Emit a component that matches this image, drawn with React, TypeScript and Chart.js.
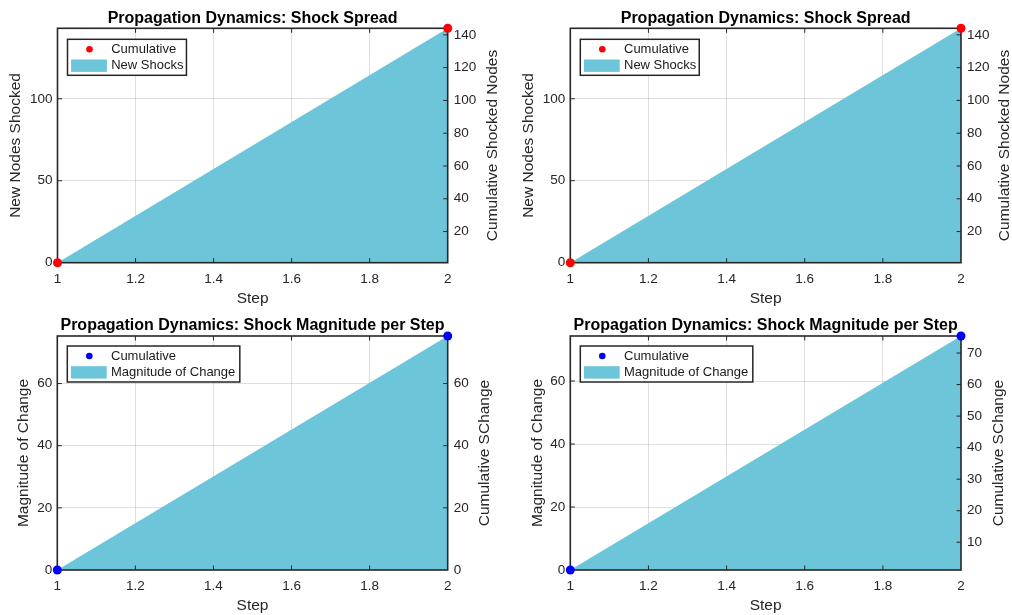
import React, { useEffect, useRef } from "react";
import { Chart, registerables } from "chart.js";

Chart.register(...registerables);

// ---------- data ----------
const steps = [1, 2];
const xTicks = [1, 1.2, 1.4, 1.6, 1.8, 2];

const spreadNew = [0, 143];
const spreadCum = [1, 144];
const spreadLeftTicks = [0, 50, 100];
const spreadRightTicks = [20, 40, 60, 80, 100, 120, 140];

const magNewA = [0, 75.3];
const magCumA = [0, 75.3];
const magLeftTicksA = [0, 20, 40, 60];
const magRightTicksA = [0, 20, 40, 60];

const magNewB = [0, 74.3];
const magCumB = [1.2, 75.4];
const magLeftTicksB = [0, 20, 40, 60];
const magRightTicksB = [10, 20, 30, 40, 50, 60, 70];

const titleSpread = "Propagation Dynamics: Shock Spread";
const titleMag = "Propagation Dynamics: Shock Magnitude per Step";
const xLabel = "Step";
const cumLabel = "Cumulative";

// ---------- style ----------
const FAMILY = '"Liberation Sans", Arial, Helvetica, sans-serif';
const CYAN = "rgb(108,197,217)";
const DARK = "#262626";
const GRID = "rgba(38,38,38,0.15)";

type Spec = {
  x: number; y: number; w: number; h: number;
  area: { l: number; r: number; t: number; b: number };
  title: string;
  newVals: number[]; cumVals: number[];
  leftTicks: number[]; rightTicks: number[];
  areaLabel: string; leftTitle: string; rightTitle: string;
  dot: string;
  leftTitleX: number; rightTitleOff: number; xTitleFromBottom: number;
  legendPadR: number; legendTop: number;
};

const specs: Spec[] = [
  {
    x: 0, y: 0, w: 506, h: 310,
    area: { l: 57.5, r: 447.7, t: 28.3, b: 262.7 },
    title: titleSpread, newVals: spreadNew, cumVals: spreadCum,
    leftTicks: spreadLeftTicks, rightTicks: spreadRightTicks,
    areaLabel: "New Shocks", leftTitle: "New Nodes Shocked", rightTitle: "Cumulative Shocked Nodes",
    dot: "#ff0000", leftTitleX: 15.8, rightTitleOff: 45.3, xTitleFromBottom: 11,
    legendPadR: 3, legendTop: 11,
  },
  {
    x: 506, y: 0, w: 506, h: 310,
    area: { l: 64.3, r: 455, t: 28.3, b: 262.7 },
    title: titleSpread, newVals: spreadNew, cumVals: spreadCum,
    leftTicks: spreadLeftTicks, rightTicks: spreadRightTicks,
    areaLabel: "New Shocks", leftTitle: "New Nodes Shocked", rightTitle: "Cumulative Shocked Nodes",
    dot: "#ff0000", leftTitleX: 22.3, rightTitleOff: 44, xTitleFromBottom: 11,
    legendPadR: 3, legendTop: 11,
  },
  {
    x: 0, y: 310, w: 506, h: 305,
    area: { l: 57.3, r: 447.7, t: 26, b: 260 },
    title: titleMag, newVals: magNewA, cumVals: magCumA,
    leftTicks: magLeftTicksA, rightTicks: magRightTicksA,
    areaLabel: "Magnitude of Change", leftTitle: "Magnitude of Change", rightTitle: "Cumulative SChange",
    dot: "#0000ff", leftTitleX: 24, rightTitleOff: 37.3, xTitleFromBottom: 9,
    legendPadR: 4.5, legendTop: 10,
  },
  {
    x: 506, y: 310, w: 506, h: 305,
    area: { l: 64.3, r: 455, t: 26, b: 260 },
    title: titleMag, newVals: magNewB, cumVals: magCumB,
    leftTicks: magLeftTicksB, rightTicks: magRightTicksB,
    areaLabel: "Magnitude of Change", leftTitle: "Magnitude of Change", rightTitle: "Cumulative SChange",
    dot: "#0000ff", leftTitleX: 31.5, rightTitleOff: 37.3, xTitleFromBottom: 9,
    legendPadR: 4.5, legendTop: 10,
  },
];

const fmt = (v: number) => String(Number(v.toFixed(2)));

const decoPlugin = {
  id: "panelDeco",
  afterDatasetDraw(chart: any, args: any, opts: any) {
    if (args.index !== 0) return;
    const { ctx, chartArea: a, scales } = chart;
    ctx.save();
    ctx.strokeStyle = DARK;
    ctx.lineWidth = 1;
    const tl = 4.5;
    ctx.beginPath();
    for (const v of xTicks) {
      if (v === 1 || v === 2) continue;
      const px = scales.x.getPixelForValue(v);
      ctx.moveTo(px, a.bottom); ctx.lineTo(px, a.bottom - tl);
      ctx.moveTo(px, a.top); ctx.lineTo(px, a.top + tl);
    }
    for (const v of opts.leftTicks) {
      const py = scales.y.getPixelForValue(v);
      if (Math.abs(py - a.bottom) < 1 || Math.abs(py - a.top) < 1) continue;
      ctx.moveTo(a.left, py); ctx.lineTo(a.left + tl, py);
    }
    for (const v of opts.rightTicks) {
      const py = scales.y1.getPixelForValue(v);
      if (Math.abs(py - a.bottom) < 1 || Math.abs(py - a.top) < 1) continue;
      ctx.moveTo(a.right, py); ctx.lineTo(a.right - tl, py);
    }
    ctx.stroke();
    ctx.lineWidth = 1.6;
    ctx.strokeRect(a.left, a.top, a.right - a.left, a.bottom - a.top);
    ctx.restore();
  },
  afterDraw(chart: any, _args: any, opts: any) {
    const { ctx, chartArea: a } = chart;
    ctx.save();
    // right axis title (reads bottom to top)
    ctx.translate(a.right + opts.rightTitleOff, (a.top + a.bottom) / 2);
    ctx.rotate(-Math.PI / 2);
    ctx.font = `15.5px ${FAMILY}`;
    ctx.fillStyle = DARK;
    ctx.textAlign = "center";
    ctx.textBaseline = "middle";
    ctx.fillText(opts.rightTitle, 0, 0);
    ctx.restore();

    // legend
    ctx.save();
    const ds = chart.data.datasets;
    const labels = [ds[1].label, ds[0].label];
    ctx.font = `13px ${FAMILY}`;
    const tw = Math.max(...labels.map((t: string) => ctx.measureText(t).width));
    const bx = a.left + 10;
    const by = a.top + opts.legendTop;
    const bw = 43.7 + tw + opts.legendPadR;
    const bh = 36;
    ctx.fillStyle = "#ffffff";
    ctx.fillRect(bx, by, bw, bh);
    ctx.lineWidth = 1.5;
    ctx.strokeStyle = DARK;
    ctx.strokeRect(bx, by, bw, bh);
    ctx.fillStyle = ds[1].pointBackgroundColor;
    ctx.beginPath();
    ctx.arc(bx + 22, by + 10, 3.3, 0, Math.PI * 2);
    ctx.fill();
    ctx.fillStyle = CYAN;
    ctx.fillRect(bx + 3.6, by + 20.2, 35.8, 12.4);
    ctx.fillStyle = "#1a1a1a";
    ctx.textAlign = "left";
    ctx.textBaseline = "middle";
    ctx.fillText(labels[0], bx + 43.7, by + 10);
    ctx.fillText(labels[1], bx + 43.7, by + 26.5);
    ctx.restore();
  },
};

function makeConfig(p: Spec): any {
  const yMin = Math.min(...p.newVals);
  const yMax = Math.max(...p.newVals);
  const y1Min = Math.min(...p.cumVals);
  const y1Max = Math.max(...p.cumVals);
  const tickFont = { family: FAMILY, size: 13.5 };
  const titleFont = { family: FAMILY, size: 15.5, lineHeight: 1.2 };
  return {
    type: "line",
    data: {
      datasets: [
        {
          label: p.areaLabel,
          data: steps.map((s, i) => ({ x: s, y: p.newVals[i] })),
          yAxisID: "y",
          fill: "origin",
          backgroundColor: CYAN,
          borderWidth: 0,
          borderColor: "rgba(0,0,0,0)",
          pointRadius: 0,
          tension: 0,
          order: 2,
        },
        {
          label: cumLabel,
          data: steps.map((s, i) => ({ x: s, y: p.cumVals[i] })),
          yAxisID: "y1",
          showLine: false,
          clip: false,
          pointRadius: 4.5,
          pointBackgroundColor: p.dot,
          pointBorderWidth: 0,
          borderColor: p.dot,
          backgroundColor: p.dot,
          order: 1,
        },
      ],
    },
    options: {
      animation: false,
      responsive: false,
      events: [],
      layout: { padding: 0 },
      plugins: {
        legend: { display: false },
        tooltip: { enabled: false },
        title: {
          display: true,
          text: p.title,
          fullSize: false,
          color: "#000",
          font: { family: FAMILY, size: 16, weight: "bold", lineHeight: 1.2 },
          padding: { top: p.area.t - 10 - 9.6, bottom: 0.4 },
        },
        panelDeco: {
          leftTicks: p.leftTicks,
          rightTicks: p.rightTicks,
          rightTitle: p.rightTitle,
          rightTitleOff: p.rightTitleOff,
          legendPadR: p.legendPadR,
          legendTop: p.legendTop,
        },
      },
      scales: {
        x: {
          type: "linear",
          position: "bottom",
          min: 1,
          max: 2,
          z: 1,
          afterBuildTicks: (s: any) => { s.ticks = xTicks.map((v) => ({ value: v })); },
          afterFit: (s: any) => { s.height = p.h - p.area.b; },
          ticks: { autoSkip: false, maxRotation: 0, minRotation: 0, padding: 8, color: DARK, font: tickFont, callback: (v: number) => fmt(v) },
          grid: {
            drawTicks: false,
            lineWidth: 1,
            color: (c: any) => (c.tick && (c.tick.value === 1 || c.tick.value === 2) ? "rgba(0,0,0,0)" : GRID),
          },
          border: { display: false },
          title: { display: true, text: xLabel, color: DARK, font: titleFont, padding: { top: 0, bottom: p.xTitleFromBottom - 9.3 } },
        },
        y: {
          type: "linear",
          position: "left",
          min: yMin,
          max: yMax,
          z: 1,
          afterBuildTicks: (s: any) => { s.ticks = p.leftTicks.map((v) => ({ value: v })); },
          afterFit: (s: any) => { s.width = p.area.l; },
          ticks: { autoSkip: false, padding: 5, color: DARK, font: tickFont, callback: (v: number) => fmt(v) },
          grid: {
            drawTicks: false,
            lineWidth: 1,
            color: (c: any) => (c.tick && (c.tick.value === yMin || c.tick.value === yMax) ? "rgba(0,0,0,0)" : GRID),
          },
          border: { display: false },
          title: { display: true, text: p.leftTitle, color: DARK, font: titleFont, padding: { top: p.leftTitleX - 9.3, bottom: 0 } },
        },
        y1: {
          type: "linear",
          position: "right",
          min: y1Min,
          max: y1Max,
          afterBuildTicks: (s: any) => { s.ticks = p.rightTicks.map((v) => ({ value: v })); },
          afterFit: (s: any) => { s.width = p.w - p.area.r; },
          ticks: { autoSkip: false, padding: 6, color: DARK, font: tickFont, callback: (v: number) => fmt(v) },
          grid: { drawOnChartArea: false, drawTicks: false },
          border: { display: false },
          title: { display: false },
        },
      },
    },
    plugins: [decoPlugin],
  };
}

function Panel({ spec }: { spec: Spec }) {
  const ref = useRef<HTMLCanvasElement | null>(null);
  useEffect(() => {
    if (!ref.current) return;
    const chart = new Chart(ref.current, makeConfig(spec));
    return () => chart.destroy();
  }, [spec]);
  return (
    <canvas
      ref={ref}
      width={spec.w}
      height={spec.h}
      style={{ position: "absolute", left: spec.x, top: spec.y, width: spec.w, height: spec.h }}
    />
  );
}

export default function App() {
  return (
    <div style={{ position: "fixed", left: 0, top: 0, width: 1012, height: 615, background: "#fff", overflow: "hidden" }}>
      {specs.map((s, i) => (
        <Panel key={i} spec={s} />
      ))}
    </div>
  );
}
